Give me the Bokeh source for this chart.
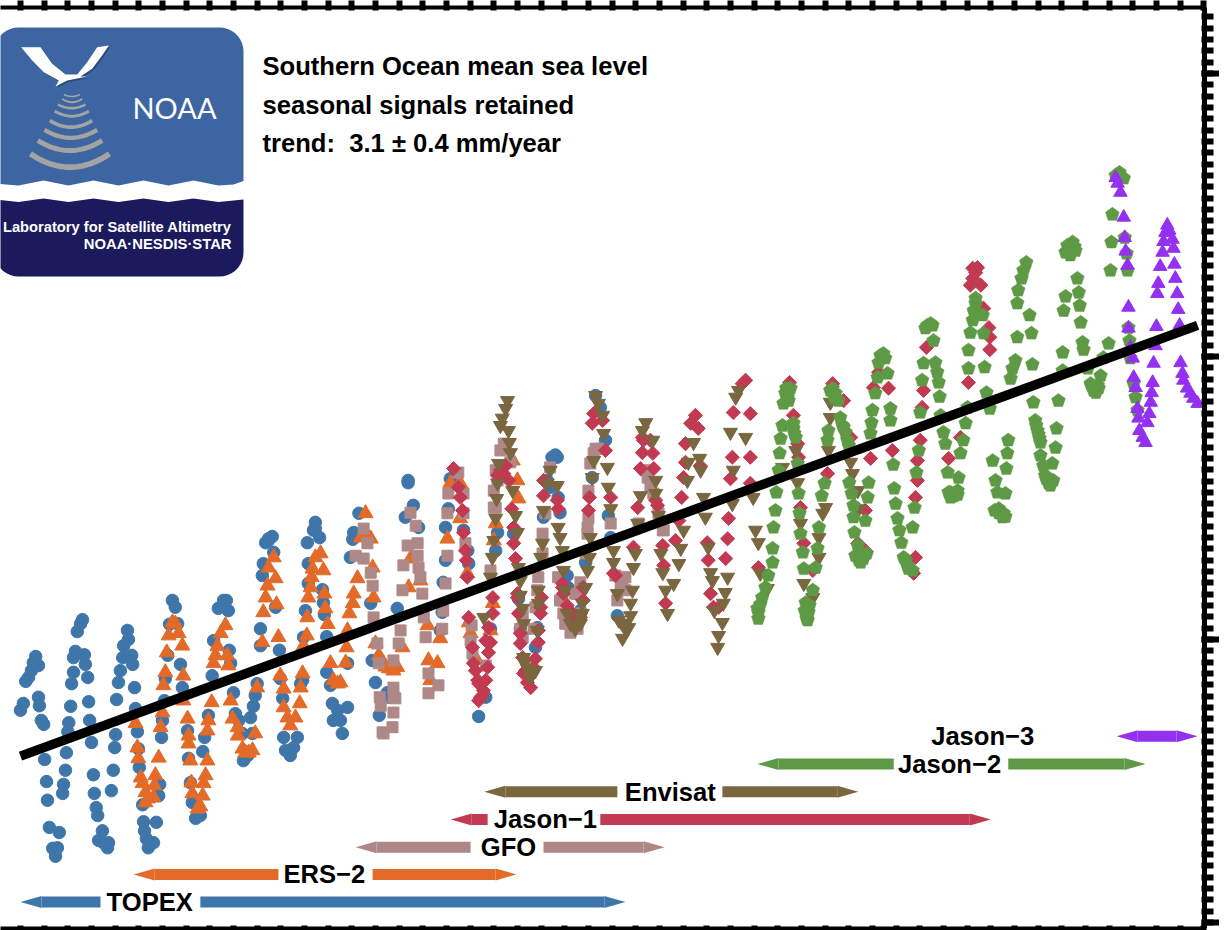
import numpy as np
from bokeh.plotting import figure
from bokeh.models import Range1d, LinearAxis, FixedTicker, CustomJSTickFormatter
from bokeh.core.properties import value
from bokeh.embed import file_html
from bokeh.resources import INLINE

# ---------- data: (decimal year, sea level in mm) ----------
topex = [(1993.00,-12.5),(1993.06,-11.3),(1993.11,-7.4),(1993.17,-6.7),(1993.23,-5.5),(1993.27,-4.1),(1993.32,-3.0),(1993.38,-4.6),
(1993.38,-10.2),(1993.40,-11.7),(1993.44,-14.3),(1993.49,-15.0),(1993.51,-21.2),(1993.55,-25.1),(1993.57,-28.4),(1993.61,-33.2),
(1993.82,-34.1),(1993.68,-36.9),(1993.78,-36.8),(1993.74,-38.3),(1993.89,-27.2),(1993.91,-25.6),(1993.95,-23.1),(1993.97,-20.0),
(1994.00,-16.3),(1994.02,-14.7),(1994.06,-11.8),(1994.08,-7.8),(1994.12,-5.8),(1994.12,-3.2),(1994.16,-2.1),(1994.20,1.4),(1994.27,2.8),
(1994.31,3.5),(1994.35,-2.7),(1994.37,-4.4),(1994.42,-6.7),(1994.44,-11.0),(1994.46,-14.3),(1994.50,-18.2),(1994.54,-23.9),(1994.56,-27.2),
(1994.60,-29.7),(1994.63,-31.1),(1994.73,-33.8),(1994.65,-35.5),(1994.84,-36.8),(1994.86,-35.9),(1994.75,-35.9),(1994.92,-26.7),
(1994.96,-23.1),(1994.99,-19.1),(1995.01,-16.8),(1995.03,-10.6),(1995.07,-7.6),(1995.11,-5.5),(1995.16,-3.2),(1995.18,-1.1),(1995.28,0.0),
(1995.26,1.6),(1995.35,-2.8),(1995.37,-4.4),(1995.41,-8.5),(1995.43,-12.2),(1995.47,-16.3),(1995.49,-19.3),(1995.51,-22.6),(1995.94,-25.6),
(1995.58,-29.2),(1995.60,-32.2),(1995.62,-33.8),(1995.87,-32.3),(1995.66,-35.2),(1995.81,-35.9),(1995.70,-36.8),(1995.92,-27.6),
(1995.98,-17.3),(1996.00,-14.3),(1996.04,-10.8),(1996.06,-6.9),(1996.11,-2.8),(1996.15,2.7),(1996.21,6.9),(1996.27,5.7),(1996.32,2.8),
(1996.38,-4.4),(1996.42,-8.5),(1996.53,-16.1),(1996.55,-21.0),(1996.59,-25.3),(1996.63,-28.8),(1996.70,-31.6),(1996.80,-31.1),(1996.85,-19.8),
(1996.89,-17.3),(1996.97,-13.4),(1997.05,-6.4),(1997.08,-0.2),(1997.18,5.5),(1997.29,6.9),(1997.39,5.1),(1997.41,-1.9),(1997.44,-4.2),
(1997.50,-9.4),(1997.54,-13.1),(1997.61,-14.3),(1997.69,-16.6),(1997.71,-21.4),(1997.80,-20.5),(1997.86,-13.8),(1997.90,-16.6),(1997.92,-11.8),
(1997.96,-9.9),(1998.00,-7.8),(1998.07,-1.1),(1998.07,1.9),(1998.11,11.3),(1998.13,13.4),(1998.18,17.1),(1998.24,17.8),(1998.32,18.2),(1998.35,15.4),
(1998.39,5.7),(1998.47,-1.9),(1998.49,-6.9),(1998.54,-10.4),(1998.56,-17.3),(1998.60,-19.6),(1998.70,-20.5),(1998.77,-19.1),(1998.85,-17.3),
(1998.92,-7.8),(1998.96,-7.2),(1998.98,0.4),(1999.02,5.1),(1999.08,9.9),(1999.08,13.4),(1999.06,17.1),(1999.19,19.3),(1999.23,20.7),(1999.32,18.0),
(1999.38,8.8),(1999.40,6.5),(1999.42,4.4),(1999.47,0.5),(1999.47,-5.8),(1999.55,-8.1),(1999.59,-11.3),(1999.61,-14.3),(1999.76,-14.3),(1999.70,-12.5),
(1999.80,-16.6),(1999.91,-12.0),(1999.91,-4.2),(1999.97,14.5),(2000.02,17.7),(2000.04,18.9),(2000.15,22.3),(2000.40,6.4),(2000.43,-3.7),(2000.50,-7.6),
(2000.58,-13.4),(2000.75,-9.4),(2000.79,-10.2),(2000.96,5.5),(2001.13,21.6),(2001.19,27.7),(2001.30,23.7),(2001.41,19.8),(2001.87,1.6),(2001.91,4.8),
(2001.93,10.1),(2001.98,14.0),(2001.98,19.8),(2002.04,23.1),(2002.08,28.4),(2002.36,19.3),(2002.45,15.7),(2002.47,13.4),(2002.68,-13.6),(2002.83,-10.2),
(2002.93,1.9),(2003.04,15.7),(2003.08,18.9),(2003.42,18.7),(2003.52,7.2),(2003.56,1.9),(2003.88,-1.4),(2003.92,2.1),(2004.05,21.6),(2004.13,28.1),
(2004.19,26.9),(2004.23,32.2),(2004.34,32.2),(2004.36,25.1),(2004.40,22.4),(2004.55,11.3),(2004.57,9.2),(2004.83,5.1),(2004.94,13.6),(2005.08,28.6),
(2005.15,43.1),(2005.25,41.0),(2005.36,35.2),(2005.42,21.9),(2005.47,18.0),(2005.61,4.2),(2005.78,2.5),
(1997.27,6.0),(1997.35,6.9),(1998.24,17.5),(1999.23,19.6),(2001.19,28.1),(2004.30,32.6)]

ers2 = [(1995.43,-14.8),(1995.47,-19.1),(1995.49,-21.0),(1995.54,-24.4),(1995.58,-25.4),(1995.64,-27.0),(1995.70,-28.1),(1995.64,-28.8),(1995.81,-27.9),
(1995.85,-24.0),(1995.92,-20.9),(1995.83,-25.8),(1995.96,-15.5),(1996.00,-12.9),(1996.02,-8.1),(1996.06,-5.8),(1996.09,-2.3),(1996.13,0.7),(1996.21,3.0),
(1996.27,2.8),(1996.34,1.1),(1996.42,-1.1),(1996.44,-6.4),(1996.44,-10.8),(1996.53,-14.0),(1996.55,-17.0),(1996.55,-18.4),(1996.59,-21.4),(1996.61,-25.3),
(1996.63,-27.2),(1996.74,-29.9),(1996.80,-29.5),(1996.85,-27.6),(1996.87,-25.4),(1996.91,-24.0),(1996.95,-21.4),(1996.95,-16.1),(1996.97,-14.3),
(1997.04,-11.1),(1997.08,-4.2),(1997.12,-2.8),(1997.16,-1.2),(1997.23,1.1),(1997.33,2.5),(1997.37,-2.8),(1997.39,-4.6),(1997.44,-10.8),(1997.48,-14.0),
(1997.59,-15.5),(1997.59,-17.0),(1997.69,-19.3),(1997.75,-20.0),(1997.82,-20.0),(1997.90,-19.6),(1997.96,-16.6),(1998.00,-8.5),(1998.11,-0.5),(1998.13,4.8),
(1998.18,7.4),(1998.22,9.5),(1998.24,12.7),(1998.35,14.5),(1998.39,10.8),(1998.41,6.2),(1998.45,0.4),(1998.49,-6.4),(1998.56,-8.7),(1998.56,-12.0),
(1998.64,-13.8),(1998.70,-15.2),(1998.81,-13.8),(1998.90,-11.3),(1998.92,-8.5),(1998.96,-6.0),(1998.98,-1.1),(1999.05,0.7),(1999.06,3.9),(1999.08,7.4),
(1999.13,9.2),(1999.15,11.0),(1999.17,12.5),(1999.23,14.5),(1999.34,15.2),(1999.40,12.2),(1999.42,8.1),(1999.44,5.5),(1999.49,2.7),(1999.55,-4.2),
(1999.61,-7.2),(1999.70,-7.8),(1999.76,-7.6),(1999.87,-4.1),(1999.89,-1.4),(1999.91,1.6),(1999.95,4.6),(2000.02,6.4),(2000.04,8.1),(2000.12,10.8),
(2000.19,18.0),(2000.29,22.3),(2000.33,18.4),(2000.40,17.8),(2000.44,12.7),(2000.46,7.4),(2000.50,-0.7),(2000.57,-2.8),(2000.67,-4.2),(2000.78,-5.1),
(2000.88,-5.5),(2000.96,-4.9),(2001.07,-1.4),(2001.20,9.2),(2001.24,14.3),(2001.45,10.4),(2001.60,2.5),(2001.62,-3.7),(2001.81,-4.2),(2001.66,-7.2),
(2001.87,0.2),(2002.02,17.8),(2002.08,27.6),(2002.29,27.6),(2002.29,21.4),(2002.44,11.7),(2002.47,3.0),(2002.51,1.1),(2002.61,-3.2),(2002.93,1.6),
(2002.98,6.4),(2003.00,17.5),(2003.04,20.5),(2003.40,31.6),(2003.50,28.1),(2003.52,24.9),(2000.61,-3.7),(2000.71,-4.8),(2000.86,-5.1)]

gfo = [(2000.08,14.8),(2000.25,19.6),(2000.25,14.3),(2000.33,17.0),(2000.40,11.8),(2000.44,9.5),(2000.46,3.9),(2000.54,-0.7),(2000.57,-4.2),(2000.59,-10.2),
(2000.61,-11.7),(2000.65,-16.4),(2000.67,-16.6),(2000.86,-15.5),(2000.88,-12.9),(2000.88,-8.5),(2000.88,-10.2),(2000.92,-10.4),(2000.88,-3.7),(2000.99,-0.7),
(2001.03,1.6),(2001.07,8.7),(2001.09,13.1),(2001.18,16.6),(2001.39,17.0),(2001.35,20.1),(2001.24,22.4),(2001.39,14.8),(2001.41,12.7),(2001.45,11.0),
(2001.49,8.1),(2001.52,3.9),(2001.56,0.4),(2001.62,-6.0),(2001.83,-8.1),(2001.62,-9.5),(2001.91,1.9),(2001.93,5.1),(2001.98,9.9),(2002.02,14.8),
(2002.02,22.3),(2002.04,25.8),(2002.25,29.5),(2002.36,25.8),(2002.36,22.3),(2002.40,17.0),(2002.55,-2.5),(2002.83,-4.6),(2002.93,12.2),(2003.00,23.3),
(2003.08,28.1),(2003.14,33.4),(2003.21,34.6),(2003.35,31.3),(2003.56,1.9),(2003.61,4.6),(2003.84,1.9),(2003.88,5.7),(2003.92,8.7),(2003.94,11.0),
(2004.03,15.2),(2004.03,18.7),(2004.09,22.3),(2004.19,30.4),(2004.36,11.0),(2004.45,6.9),(2004.51,2.8),(2004.62,1.2),(2004.72,8.1),(2004.94,15.2),
(2004.98,19.8),(2005.00,26.3),(2005.04,31.1),(2005.15,33.7),(2005.47,20.5),(2005.72,9.9),(2005.78,11.0),(2006.06,20.5),(2006.25,28.6),(2006.37,25.8),
(2006.57,19.3),(2004.40,6.9),(2004.47,4.6),(2004.55,2.8),(2004.66,1.9),(2004.77,1.9),(2004.83,4.6),(2004.77,8.1),(2004.83,10.1),(2005.61,6.9),(2005.68,9.2),
(2005.78,8.7),(2005.57,11.3),(2003.00,26.3),(2003.04,29.9),(2002.51,-0.2),(2002.53,2.5),(2003.61,0.4),(2006.21,29.9),(2006.31,26.9),(2006.48,22.3),(2006.59,19.3),
(2005.00,21.4),(2004.98,18.7),(2005.11,32.9),(2005.21,33.7),(2003.04,23.3)]

jason1 = [(2002.15,30.2),(2002.25,26.9),(2002.29,25.1),(2002.34,22.8),(2002.36,18.9),(2002.40,15.7),(2002.42,14.0),(2002.44,11.0),(2002.47,3.9),(2002.55,-1.4),
(2002.57,-4.2),(2002.68,-7.8),(2002.72,-10.2),(2002.87,-4.9),(2002.89,-2.3),(2002.93,-0.5),(2002.98,7.4),(2003.21,29.3),(2003.32,28.1),(2003.38,23.1),
(2003.42,17.0),(2003.46,14.3),(2003.50,7.4),(2003.56,-0.7),(2003.67,-5.5),(2003.78,-8.5),(2003.88,-3.4),(2003.94,-0.5),(2003.99,5.7),(2004.05,25.4),
(2004.34,24.6),(2004.36,23.1),(2004.45,9.2),(2004.55,6.0),(2004.79,3.4),(2004.89,6.9),(2005.00,22.8),(2005.02,25.1),(2005.08,38.2),(2005.11,39.9),
(2005.30,38.7),(2005.36,33.4),(2005.47,25.1),(2005.57,11.3),(2005.95,16.3),(2006.04,23.3),(2006.10,30.2),(2006.14,33.0),(2006.14,35.7),(2006.36,32.9),
(2006.38,30.2),(2006.46,23.7),(2006.57,16.6),(2006.59,13.1),(2006.63,6.4),(2006.84,17.5),(2006.91,21.0),(2006.97,25.1),(2007.01,28.6),(2007.05,31.3),
(2007.05,34.6),(2007.16,38.2),(2007.26,39.6),(2007.32,37.3),(2007.36,30.7),(2007.51,17.1),(2007.53,14.0),(2007.58,8.1),(2007.64,5.7),(2007.90,14.3),
(2007.94,17.8),(2007.96,21.4),(2008.00,28.4),(2008.04,32.2),(2008.06,40.1),(2008.25,45.2),(2008.32,45.8),(2008.42,39.9),(2008.42,32.2),(2008.42,27.6),
(2008.59,12.7),(2009.25,45.4),(2009.33,39.6),(2009.42,34.6),(2009.44,32.2),(2009.48,23.3),(2009.55,17.0),(2009.74,12.2),(2010.05,29.3),(2010.16,45.2),
(2010.39,42.2),(2010.54,35.7),(2010.69,17.0),(2010.85,15.7),(2010.85,22.8),(2010.96,32.0),(2011.02,44.5),(2011.13,47.2),(2011.34,44.4),(2011.42,33.4),
(2011.87,11.7),(2011.91,14.5),(2011.95,28.1),(2011.95,31.6),(2011.91,25.1),(2012.01,35.2),(2012.05,41.0),(2012.08,44.0),(2012.14,51.6),(2012.61,32.0),
(2012.86,35.7),(2013.03,45.4),(2013.12,63.8),(2013.22,65.7),(2013.29,62.6),(2013.35,58.5),(2013.46,55.1),(2013.48,53.4),(2013.48,51.2),
(2002.61,-5.5),(2002.66,-7.2),(2002.78,-9.0),(2002.83,-7.2),(2002.68,-10.8),(2002.76,-9.9),(2002.83,-0.2),(2002.89,2.1),(2002.98,4.6),(2003.14,29.9),(2003.25,30.7),
(2003.08,29.0),(2003.42,19.8),(2003.50,8.1),(2003.52,4.6),(2003.56,1.1),(2003.61,-3.2),(2003.63,-6.0),(2003.71,-7.6),(2003.84,-4.9),(2003.94,1.6),(2003.99,4.6),
(2004.01,7.4),(2004.05,28.1),(2004.45,9.9),(2004.47,8.1),(2004.66,4.6),(2004.83,3.9),(2004.89,9.2),(2005.53,11.7),(2006.16,35.2),(2006.31,35.2),(2006.42,24.6),
(2007.75,5.7),(2013.18,64.8),(2013.12,65.6),(2013.07,62.6)]

envisat = [(2002.79,3.9),(2002.93,11.0),(2002.97,14.5),(2003.00,17.5),(2003.04,21.4),(2003.06,24.9),(2003.08,27.6),(2003.10,31.1),(2003.14,37.8),(2003.18,39.1),
(2003.25,40.8),(2003.29,42.2),(2003.31,36.9),(2003.33,34.8),(2003.35,33.0),(2003.40,26.3),(2003.46,21.9),(2003.50,18.9),(2003.52,12.7),(2003.56,10.4),
(2003.56,7.8),(2003.61,5.5),(2003.63,2.8),(2003.63,-3.2),(2003.73,-5.5),(2003.78,-6.7),(2003.88,-5.5),(2003.92,1.6),(2003.94,6.4),(2003.94,8.7),(2003.99,14.5),
(2004.03,17.0),(2004.05,22.8),(2004.13,27.6),(2004.19,29.9),(2004.34,27.2),(2004.36,19.8),(2004.40,18.0),(2004.45,15.7),(2004.47,12.2),(2004.51,8.7),
(2004.55,4.6),(2004.72,2.1),(2004.83,3.9),(2004.87,6.4),(2004.94,9.2),(2004.98,12.2),(2005.02,14.5),(2005.04,18.0),(2005.08,28.6),(2005.11,31.6),(2005.15,43.1),
(2005.21,41.7),(2005.30,39.6),(2005.32,36.4),(2005.40,30.4),(2005.42,26.9),(2005.47,23.1),(2005.53,15.7),(2005.53,13.6),(2005.61,8.1),(2005.72,2.8),(2005.72,0.2),
(2005.85,2.1),(2005.89,6.4),(2005.93,8.7),(2005.95,12.7),(2005.99,15.2),(2006.04,20.5),(2006.10,25.4),(2006.14,36.9),(2006.21,38.3),(2006.36,35.2),(2006.42,28.1),
(2006.42,25.8),(2006.48,21.9),(2006.53,15.2),(2006.57,11.8),(2006.63,8.7),(2006.67,4.6),(2006.80,9.9),(2006.91,13.4),(2006.95,16.1),(2007.01,19.3),(2007.09,28.1),
(2007.11,31.3),(2007.22,34.8),(2007.35,32.0),(2007.37,29.9),(2007.43,25.1),(2007.47,21.6),(2007.53,16.3),(2007.58,11.8),(2007.62,10.4),(2007.66,5.1),(2007.73,-1.4),
(2007.75,0.7),(2007.83,3.0),(2007.85,6.4),(2007.89,8.3),(2007.94,11.0),(2008.04,24.0),(2008.06,29.9),(2008.11,42.8),(2008.17,44.0),(2008.32,35.7),(2008.00,36.6),
(2008.48,25.1),(2008.53,19.3),(2008.59,17.1),(2008.63,11.7),(2008.78,9.0),(2009.10,30.4),(2009.38,33.4),(2009.42,27.7),(2009.48,20.5),(2009.55,9.9),(2009.74,7.4),
(2009.87,14.5),(2009.87,18.0),(2009.95,22.3),(2010.01,23.3),(2010.07,33.4),(2010.11,39.2),(2010.11,41.9),(2010.54,31.3),(2010.58,29.3),(2010.69,26.3),(2010.71,23.1),
(2004.62,2.8),(2004.72,1.9),(2004.83,2.8),(2004.87,4.6),(2005.64,3.4),(2005.78,1.9),(2005.89,4.2),(2003.71,-5.1),(2003.82,-6.0),(2003.65,-4.2)]

jason2 = [(2008.59,3.7),(2008.57,5.5),(2008.67,7.4),(2008.74,9.2),(2008.80,11.3),(2008.89,13.6),(2008.89,16.1),(2008.91,19.8),(2008.95,22.8),(2008.97,26.0),(2009.02,29.9),
(2009.04,32.9),(2009.06,35.5),(2009.10,37.8),(2009.12,41.7),(2009.16,43.5),(2009.27,44.4),(2009.21,42.8),(2009.33,38.2),(2009.38,35.7),(2009.42,31.1),(2009.44,25.8),
(2009.46,22.3),(2009.48,18.7),(2009.53,15.4),(2009.55,12.5),(2009.59,6.5),(2009.65,4.8),(2009.63,3.4),(2009.74,8.7),(2009.80,12.7),(2009.84,16.1),(2009.87,19.8),
(2009.93,25.4),(2009.99,27.6),(2010.05,35.2),(2010.07,36.9),(2010.11,44.0),(2010.22,43.5),(2010.28,42.2),(2010.32,39.2),(2010.39,37.5),(2010.47,35.2),(2010.51,27.7),
(2010.56,25.8),(2010.60,23.7),(2010.60,21.6),(2010.62,18.9),(2010.69,16.6),(2010.75,14.5),(2010.81,14.8),(2010.85,21.0),(2010.90,25.1),(2010.92,27.7),(2010.96,36.4),
(2010.98,38.3),(2011.00,40.5),(2011.06,43.5),(2011.11,46.3),(2011.13,48.9),(2011.23,50.5),(2011.32,47.0),(2011.38,40.8),(2011.38,38.7),(2011.44,30.9),(2011.46,26.7),
(2011.49,24.0),(2011.53,21.4),(2011.57,19.3),(2011.61,17.1),(2011.66,14.5),(2011.74,13.1),(2011.85,19.8),(2011.89,23.3),(2011.93,29.5),(2011.98,33.4),(2012.01,40.1),
(2012.05,45.8),(2012.08,48.8),(2012.16,55.5),(2012.23,55.8),(2012.29,52.8),(2012.33,48.9),(2012.37,47.2),(2012.40,45.4),(2012.42,42.9),(2012.44,39.6),(2012.50,36.6),
(2012.54,34.6),(2012.59,29.5),(2012.65,26.0),(2012.73,25.4),(2012.80,26.3),(2012.82,28.6),(2012.86,32.9),(2012.92,35.2),(2012.97,38.2),(2013.01,41.0),(2013.03,47.9),
(2013.03,51.1),(2013.07,54.2),(2013.12,56.4),(2013.14,58.1),(2013.18,60.3),(2013.33,57.3),(2013.35,54.1),(2013.37,48.1),(2013.41,43.6),(2013.48,40.8),(2013.54,31.6),
(2013.60,28.1),(2013.64,26.0),(2013.67,23.1),(2013.77,22.3),(2013.81,25.8),(2013.83,30.2),(2013.85,32.9),(2013.87,35.2),(2013.92,46.1),(2013.96,47.9),(2014.02,49.3),
(2014.06,53.4),(2014.06,59.4),(2014.08,61.7),(2014.15,63.8),(2014.19,65.2),(2014.25,66.6),(2014.32,57.3),(2014.36,54.1),(2014.38,48.6),(2014.40,41.9),(2014.44,38.7),
(2014.49,36.9),(2014.53,35.5),(2014.55,32.5),(2014.61,30.7),(2014.65,29.0),(2014.72,27.6),(2014.80,31.1),(2014.87,33.9),(2014.89,37.3),(2014.93,42.2),(2015.02,47.5),
(2015.02,50.7),(2015.04,58.1),(2015.08,60.6),(2015.12,68.7),(2015.23,70.2),(2015.29,68.7),(2015.33,63.8),(2015.36,61.3),(2015.38,59.0),(2015.40,56.0),(2015.44,52.5),
(2015.46,51.2),(2015.55,47.9),(2015.61,45.2),(2015.67,44.0),(2015.76,44.9),(2015.82,46.6),(2015.88,49.8),(2015.99,52.3),(2016.03,65.2),(2016.05,70.2),(2016.07,75.1),
(2016.14,82.0),(2016.22,82.5),(2016.31,81.5),(2016.33,71.0),(2016.37,68.2),(2016.39,65.2),(2016.41,55.1),(2016.43,52.8),(2016.45,49.7),(2016.52,45.2),(2016.56,42.8),(2016.60,40.5),
(2010.64,14.8),(2010.71,14.0),(2010.75,13.6),(2010.81,14.3),(2010.88,15.2),(2011.70,14.0),(2011.76,12.5),(2011.85,12.2),(2012.61,26.0),(2012.69,25.3),(2012.80,25.6),(2012.65,25.1),
(2013.67,22.3),(2013.75,21.6),(2013.81,21.7),(2013.58,22.8),(2014.67,28.4),(2014.76,27.2),(2014.82,28.1),(2015.63,44.9),(2015.72,43.6),(2015.78,44.4),(2011.17,50.2),(2011.27,49.7),
(2012.12,55.0),(2012.27,55.5),(2015.12,69.6),(2015.18,69.1),(2015.27,69.4),(2015.18,67.9),(2015.08,68.4),(2009.18,44.4),(2009.23,42.2),(2010.16,44.4),(2010.20,42.6),(2010.37,37.8),
(2010.43,36.6),(2010.50,34.3),(2009.33,37.3),(2009.35,36.4),(2014.46,37.8),(2014.51,36.2),(2014.55,34.8),(2008.59,4.8),(2008.63,6.2),(2009.57,5.1),(2009.67,6.0),(2009.61,3.7),(2013.18,59.4)]

jason3 = [(2016.14,81.6),(2016.18,80.6),(2016.24,79.0),(2016.31,74.6),(2016.33,71.0),(2016.35,68.6),(2016.39,66.1),(2016.41,58.7),(2016.41,55.0),(2016.45,51.6),(2016.50,49.7),
(2016.52,46.3),(2016.56,44.5),(2016.60,40.8),(2016.62,39.1),(2016.64,36.9),(2016.71,35.7),(2016.77,34.8),(2016.81,38.3),(2016.85,39.9),(2016.88,41.9),(2016.90,43.6),
(2016.92,45.4),(2016.94,48.8),(2016.98,51.9),(2017.00,55.3),(2017.02,61.1),(2017.04,62.9),(2017.08,65.9),(2017.13,68.4),(2017.15,70.3),(2017.19,71.9),(2017.23,73.2),
(2017.27,72.3),(2017.34,70.7),(2017.36,69.1),(2017.38,66.3),(2017.40,63.8),(2017.44,61.1),(2017.46,58.3),(2017.49,55.5),(2017.51,48.9),(2017.55,47.0),(2017.57,45.8),
(2017.65,44.4),(2017.72,43.5),(2017.78,42.6),(2017.87,41.7)]

trend_years = [1993.0, 2017.87]
trend_mm = [-20.6, 55.5]

# mission name, first year, last year, row (mm), label gap start, gap end, label year
missions = [
    ("TOPEX",   1993.00, 2005.78, -46.4, 1994.69, 1996.80, 1995.73),
    ("ERS\u22122",   1995.39, 2003.48, -41.5, 1998.45, 2000.44, 1999.42),
    ("GFO",     2000.08, 2006.61, -36.7, 2002.51, 2004.05, 2003.31),
    ("Jason\u22121", 2002.09, 2013.50, -31.8, 2002.87, 2005.25, 2004.09),
    ("Envisat", 2002.80, 2010.70, -26.9, 2005.61, 2007.83, 2006.73),
    ("Jason\u22122", 2008.57, 2016.77, -22.0, 2011.45, 2013.87, 2012.63),
    ("Jason\u22123", 2016.16, 2017.87, -17.1, None, None, 2013.33),
]
title_lines = ["Southern Ocean mean sea level", "seasonal signals retained", "trend:\u00a0\u00a03.1 \u00b1 0.4 mm/year"]

x_ticks = [1993 + 0.5 * i for i in range(-1, 51)]
y_major = [-50, 0, 50, 100]
y_minor = [v for v in range(-50, 114, 2)]

# ---------- colours ----------
C_TOPEX, C_ERS, C_GFO, C_J1, C_ENV, C_J2, C_J3 = "#3F76AA", "#E36A28", "#AE8887", "#C23A52", "#7A663F", "#5E9A45", "#9430EF"
mission_colors = [C_TOPEX, C_ERS, C_GFO, C_J1, C_ENV, C_J2, C_J3]
FONT = value("Liberation Sans")

# ---------- scale ----------
PX_YEAR = 47.33
PX_MM = 5.66
def X(px):  # page pixel to year (only for decoration geometry)
    return 1993.0 + (np.asarray(px, dtype=float) - 20.0) / PX_YEAR
def Y(py):  # page pixel to mm (only for decoration geometry)
    return (639.0 - np.asarray(py, dtype=float)) / PX_MM

p = figure(frame_width=1204, frame_height=921, x_range=Range1d(float(X(0)), float(X(1204))),
           y_range=Range1d(float(Y(928)), float(Y(7))), toolbar_location=None, output_backend="svg",
           x_axis_location=None, y_axis_location=None, outline_line_color=None,
           min_border_left=0, min_border_top=7, min_border_bottom=2, min_border_right=0)
p.grid.visible = False

blank = CustomJSTickFormatter(code="return ''")
def frame_axis(ticks, minor=None, t_in=3, t_out=0, m_in=0, m_out=0, lw=4):
    return LinearAxis(ticker=FixedTicker(ticks=ticks, minor_ticks=minor or []), formatter=blank,
                      major_label_standoff=0, axis_line_width=lw, axis_line_color="black",
                      major_tick_line_width=6, major_tick_line_color="black", major_tick_in=t_in, major_tick_out=t_out,
                      minor_tick_line_width=6, minor_tick_line_color="black", minor_tick_in=m_in, minor_tick_out=m_out)
p.add_layout(frame_axis(x_ticks, t_in=3, t_out=7), "above")
p.add_layout(frame_axis(x_ticks, t_in=3, t_out=2), "below")
p.add_layout(frame_axis(y_major, y_minor, t_in=3, t_out=15, m_in=3, m_out=9, lw=5), "right")

def xy(s):
    a = np.array(s)
    return a[:, 0], a[:, 1]

x, y = xy(topex);  p.scatter(x, y, marker="circle", size=12.5, color=C_TOPEX)
x, y = xy(ers2);   p.scatter(x, y, marker="triangle", size=15, color=C_ERS)
x, y = xy(gfo);    p.scatter(x, y, marker="square", size=11, color=C_GFO)
x, y = xy(jason1); p.scatter(x, y, marker="square", size=10, angle=np.pi / 4, color=C_J1)
x, y = xy(envisat); p.scatter(x, y, marker="inverted_triangle", size=14, color=C_ENV)
x, y = xy(jason2)
ang = np.pi / 2 + np.arange(5) * 2 * np.pi / 5
p.patches([list(a + 7.2 * np.cos(ang) / PX_YEAR) for a in x], [list(b + 7.2 * np.sin(ang) / PX_MM) for b in y],
          fill_color=C_J2, line_color=C_J2, line_width=0.5)
x, y = xy(jason3); p.scatter(x, y, marker="triangle", size=13.5, color=C_J3)

p.line(trend_years, trend_mm, line_color="black", line_width=9.5, line_cap="butt")

# ---------- mission bars ----------
HEAD = 21 / PX_YEAR
for (name, a, b, row, g0, g1, lx), col in zip(missions, mission_colors):
    segs = [(a + HEAD, b - HEAD)] if g0 is None else [(a + HEAD, g0), (g1, b - HEAD)]
    for l, r in segs:
        if r > l:
            p.hbar(y=[row], left=[l], right=[r], height=11 / PX_MM, color=col, line_color=None)
    hh = 6 / PX_MM
    p.patches([[a, a + HEAD, a + HEAD], [b, b - HEAD, b - HEAD]],
              [[row, row + hh, row - hh], [row, row + hh, row - hh]], color=col, line_color=None)
    p.text([lx], [row], text=[name], text_font=FONT, text_font_style="bold", text_font_size="25.6px",
           text_align="center", text_baseline="middle", text_color="black")

# ---------- title ----------
p.text(list(X([262, 262, 262])), list(Y([65.5, 104.5, 142.5])), text=title_lines, text_font=FONT, text_font_style="bold",
       text_font_size="25.6px", text_align="left", text_baseline="middle", text_color="black")

# ---------- logo ----------
def poly(px, py, color):
    p.patch(list(X(px)), list(Y(py)), fill_color=color, line_color=None)

def corner(cx, cy, r, a0, a1):
    t = np.radians(np.linspace(a0, a1, 10))
    return list(cx + r * np.cos(t)), list(cy + r * np.sin(t))

R = 24
LEFT = -6
cx1, cy1 = corner(LEFT + R, 27 + R, R, 180, 270)
cx2, cy2 = corner(243 - R, 27 + R, R, 270, 360)
wave_x = [243, 233, 218, 193, 168, 143, 118, 93, 68, 43, 18, LEFT]
wave_y = [180.5, 184, 185, 180, 185, 180, 185, 180, 185, 180, 185, 183]
poly(cx1 + cx2 + wave_x, cy1 + cy2 + wave_y, "#3C65A1")

cx3, cy3 = corner(243 - R, 276 - R, R, 0, 90)
cx4, cy4 = corner(LEFT + R, 276 - R, R, 90, 180)
nav_x = [LEFT, 18, 43, 68, 93, 118, 143, 168, 193, 218, 243]
nav_y = [199, 201.5, 198, 201.5, 198, 201.5, 198, 201.5, 198, 201.5, 199]
poly(nav_x + cx3 + cx4, nav_y + cy3 + cy4, "#1B1A5C")

bird_x = np.array([62, 120, 155, 195, 230, 260, 290, 325, 305, 275, 240, 260, 200, 165, 175, 130, 95]) / 3
bird_y = np.array([140, 140, 190, 222, 222, 185, 140, 135, 165, 205, 228, 228, 240, 258, 240, 215, 180]) / 3
poly(bird_x + 1.5, bird_y + 1.5, "#2C4A7C")
poly(bird_x, bird_y, "#FFFFFF")

# sonar arcs: left, right, end y, middle y, thickness (zoomed picture pixels)
for x0, x1, ye, ym, th in [(190, 238, 282, 288, 5), (185, 245, 295, 305, 6), (172, 255, 312, 323, 8), (163, 265, 332, 347, 9),
                           (148, 275, 360, 380, 11), (132, 290, 388, 412, 13), (112, 305, 420, 450, 15), (90, 327, 460, 500, 17)]:
    t = np.linspace(-1, 1, 25)
    ax = (x0 + x1) / 2 + t * (x1 - x0) / 2
    ay = ym - (ym - ye) * t ** 2
    p.line(list(X(ax / 3)), list(Y(ay / 3)), line_color="#A3A3A3", line_width=th / 3, line_cap="butt")

p.text(list(X([174])), list(Y([107])), text=["NOAA"], text_font=value("Lato"), text_font_size="29px",
       text_align="center", text_baseline="middle", text_color="#FFFFFF")
p.text(list(X([231])), list(Y([226])), text=["Laboratory for Satellite Altimetry"],
       text_font=FONT, text_font_style="bold", text_font_size="14.7px", text_align="right", text_baseline="middle",
       text_color="#FFFFFF")
p.text(list(X([231])), list(Y([243.5])), text=["NOAA\u00b7NESDIS\u00b7STAR"],
       text_font=FONT, text_font_style="bold", text_font_size="14.8px", text_align="right", text_baseline="middle",
       text_color="#FFFFFF")

open("out.html", "w").write(file_html(p, INLINE))
